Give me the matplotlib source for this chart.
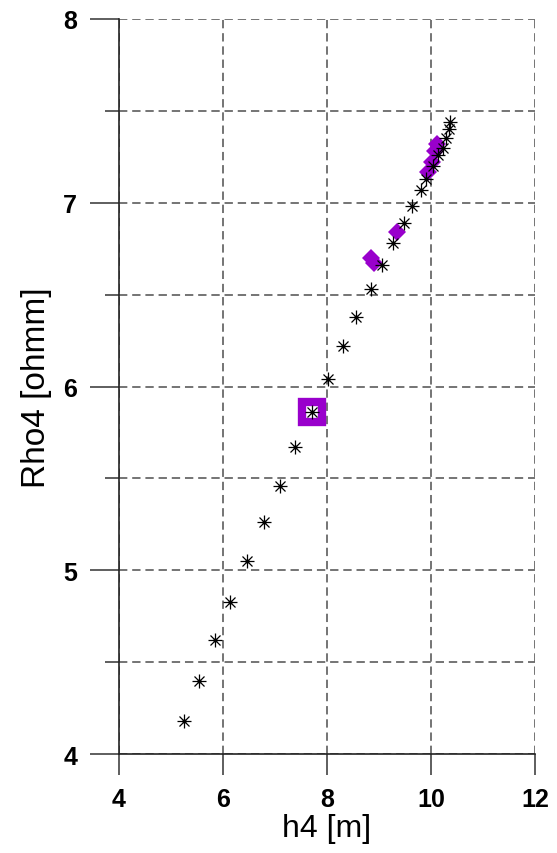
import numpy as np
import matplotlib
matplotlib.use("Agg")
import matplotlib.pyplot as plt
from matplotlib.ticker import MultipleLocator

plt.rcParams['font.family'] = ['Liberation Sans', 'DejaVu Sans']
plt.rcParams['lines.scale_dashes'] = False

# model samples
h4 = [5.25, 5.55, 5.85, 6.14, 6.47, 6.79, 7.10, 7.38, 7.72, 8.02, 8.30, 8.55,
      8.84, 9.06, 9.27, 9.48, 9.64, 9.80, 9.90, 10.04, 10.13, 10.22, 10.29,
      10.35, 10.37]
rho4 = [4.18, 4.40, 4.62, 4.83, 5.05, 5.26, 5.46, 5.67, 5.86, 6.04, 6.22, 6.38,
        6.53, 6.66, 6.78, 6.89, 6.98, 7.07, 7.13, 7.20, 7.26, 7.30, 7.35,
        7.40, 7.44]

# accepted models
acc_h4 = [8.85, 8.90, 9.34, 9.94, 10.02, 10.08, 10.12]
acc_rho4 = [6.70, 6.67, 6.84, 7.17, 7.22, 7.28, 7.32]

# best model
best_h4 = [7.72]
best_rho4 = [5.86]

purple = '#9900cc'

fig = plt.figure(figsize=(5.57, 8.54), dpi=100)
ax = fig.add_axes([0.2131, 0.1159, 0.7479, 0.8607])

ax.plot(acc_h4, acc_rho4, 'D', color=purple, markersize=9, markeredgewidth=0)
ax.plot(best_h4, best_rho4, 's', markerfacecolor='none', markeredgecolor=purple,
        markersize=14.5, markeredgewidth=6)

# asterisk markers: plus + cross + centre dot
ax.plot(h4, rho4, '+', color='black', markersize=9.5, markeredgewidth=0.9)
ax.plot(h4, rho4, 'x', color='black', markersize=6.8, markeredgewidth=0.9)
ax.plot(h4, rho4, 'o', color='black', markersize=3, markeredgewidth=0)

ax.set_xlim(4, 12)
ax.set_ylim(4, 8)
ax.xaxis.set_major_locator(MultipleLocator(2))
ax.yaxis.set_major_locator(MultipleLocator(1))
ax.yaxis.set_minor_locator(MultipleLocator(0.5))

ax.grid(True, which='both', color='#5c5c5c', linewidth=1.2,
        linestyle=(0, (6, 3.5)))
ax.set_axisbelow(True)

for side in ('top', 'right'):
    ax.spines[side].set_visible(False)
for side in ('left', 'bottom'):
    ax.spines[side].set_linewidth(1.2)
    ax.spines[side].set_color('#222222')

ax.tick_params(axis='x', which='major', direction='out', length=15, width=1.1,
               pad=9, labelsize=18, color='#333333')
ax.tick_params(axis='y', which='major', direction='out', length=21, width=1.1,
               pad=9, labelsize=18, color='#333333')
ax.tick_params(axis='y', which='minor', direction='out', length=10, width=1.1,
               color='#333333')
for lbl in ax.get_xticklabels() + ax.get_yticklabels():
    lbl.set_fontweight('bold')

ax.set_xlabel('h4 [m]', fontsize=23, labelpad=1)
ax.set_ylabel('Rho4 [ohmm]', fontsize=24, labelpad=8)

fig.savefig('out.png', dpi=100)
